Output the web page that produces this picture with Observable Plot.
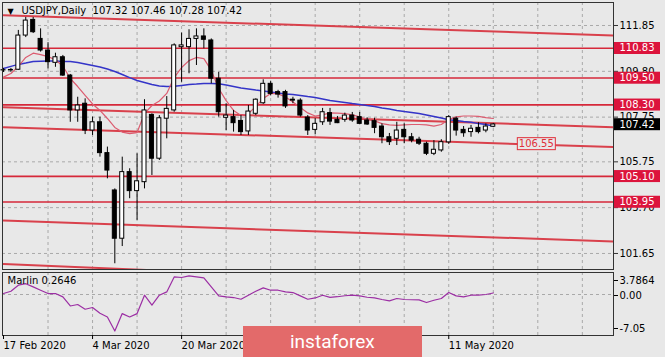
<!DOCTYPE html>
<html><head><meta charset="utf-8">
<script src="https://cdn.jsdelivr.net/npm/d3@7"></script>
<script src="https://cdn.jsdelivr.net/npm/@observablehq/plot@0.6"></script>
<style>
html,body{margin:0;padding:0;background:#e8e8e8;}
#wrap{position:relative;width:665px;height:357px;overflow:hidden;background:#e8e8e8;font-family:"DejaVu Sans",sans-serif;}
#wrap svg{position:absolute;left:0;}
#logo{position:absolute;left:243px;top:326px;width:179px;height:31px;background:#e36a6a;color:#fff;font-family:Roboto,sans-serif;font-size:19px;line-height:31px;box-sizing:border-box;padding-left:47px;}
</style></head>
<body><div id="wrap"></div>
<script>
// ---- data ----
const symbol = "USDJPY", timeframe = "Daily";
const dates = ["2020-02-17","2020-02-18","2020-02-19","2020-02-20","2020-02-21","2020-02-24","2020-02-25","2020-02-26","2020-02-27","2020-02-28",
"2020-03-02","2020-03-03","2020-03-04","2020-03-05","2020-03-06","2020-03-09","2020-03-10","2020-03-11","2020-03-12","2020-03-13",
"2020-03-16","2020-03-17","2020-03-18","2020-03-19","2020-03-20","2020-03-23","2020-03-24","2020-03-25","2020-03-26","2020-03-27",
"2020-03-30","2020-03-31","2020-04-01","2020-04-02","2020-04-03","2020-04-06","2020-04-07","2020-04-08","2020-04-09","2020-04-10",
"2020-04-13","2020-04-14","2020-04-15","2020-04-16","2020-04-17","2020-04-20","2020-04-21","2020-04-22","2020-04-23","2020-04-24",
"2020-04-27","2020-04-28","2020-04-29","2020-04-30","2020-05-01","2020-05-04","2020-05-05","2020-05-06","2020-05-07","2020-05-08",
"2020-05-11","2020-05-12","2020-05-13","2020-05-14","2020-05-15","2020-05-18","2020-05-19"];
const open = [109.85,109.84,109.87,111.40,112.10,111.25,110.73,110.18,110.43,109.61,
108.05,108.35,107.15,107.52,106.14,104.47,102.31,105.29,104.44,104.84,
107.85,105.89,107.68,108.05,110.88,110.88,111.25,111.36,111.18,109.47,
107.72,107.75,107.58,107.11,107.90,108.37,109.24,108.87,108.87,108.53,
108.49,107.73,107.18,107.52,107.93,107.63,107.63,107.82,107.75,107.60,
107.57,107.33,106.85,106.78,107.18,106.85,106.74,106.56,106.11,106.26,
106.62,107.68,107.18,107.08,107.27,107.15,107.32];
const high = [109.93,109.93,111.63,112.21,112.21,111.70,111.08,110.61,110.51,109.66,
108.64,108.57,107.75,107.75,106.41,104.54,105.96,105.44,106.11,108.53,
107.90,107.82,108.67,111.03,111.51,111.66,111.70,111.70,111.25,109.75,
108.35,108.05,107.82,108.27,108.57,109.42,109.34,108.95,108.95,108.64,
108.57,107.82,107.68,108.14,108.14,107.78,107.93,107.96,107.96,107.72,
107.70,107.45,107.02,107.52,107.45,107.02,106.85,106.63,106.70,106.74,
107.82,107.75,107.33,107.38,107.50,107.45,107.46];
const low = [109.75,109.76,109.84,111.31,111.49,110.66,109.91,109.98,109.57,107.52,
107.52,106.97,106.93,105.96,104.99,101.19,101.96,104.10,103.13,104.54,
105.14,105.81,106.78,107.97,109.31,109.69,110.06,110.81,109.24,107.75,
107.15,107.08,106.93,106.93,107.82,108.32,108.70,108.60,108.14,108.35,
107.75,106.93,106.97,107.38,107.38,107.46,107.52,107.52,107.42,107.38,
107.01,106.56,106.48,106.48,106.56,106.60,106.48,106.03,106.03,106.18,
106.53,106.90,106.85,106.85,107.00,107.05,107.28];
const close = [109.84,109.86,111.40,112.07,111.55,110.73,110.21,110.43,109.61,108.05,
108.27,107.15,107.52,106.14,105.36,102.31,105.29,104.44,104.88,108.05,
105.89,107.70,108.12,110.96,110.96,111.25,111.36,111.21,109.47,107.97,
107.82,107.48,107.08,108.00,108.53,109.24,108.79,108.76,108.23,108.49,
107.82,107.15,107.45,107.97,107.55,107.48,107.82,107.60,107.45,107.42,
107.27,106.85,106.63,107.15,106.85,106.70,106.56,106.11,106.29,106.63,
107.75,107.15,107.03,107.23,107.08,107.33,107.42];
const maSlow = [109.93,110.02,110.11,110.17,110.24,110.25,110.26,110.26,110.24,110.24,
110.19,110.13,110.06,109.99,109.90,109.79,109.66,109.52,109.39,109.30,
109.21,109.14,109.12,109.13,109.17,109.21,109.23,109.26,109.26,109.24,
109.19,109.12,109.05,109.01,108.96,108.92,108.87,108.83,108.79,108.76,
108.72,108.67,108.63,108.56,108.49,108.45,108.41,108.36,108.32,108.27,
108.23,108.16,108.11,108.05,108.00,107.96,107.91,107.85,107.78,107.71,
107.63,107.60,107.55,107.52,107.46,107.42,107.35];
const maFast = [109.54,109.70,110.02,110.42,110.61,110.55,110.46,110.31,110.04,109.48,
109.12,108.72,108.34,108.05,107.69,107.29,107.08,107.01,107.06,107.91,
108.27,108.47,108.81,109.52,109.97,110.28,110.42,110.37,109.84,109.03,
108.49,108.05,107.82,107.91,108.23,108.58,108.81,108.79,108.65,108.43,
108.18,107.94,107.80,107.85,107.94,107.93,107.91,107.85,107.76,107.64,
107.58,107.46,107.40,107.38,107.40,107.42,107.42,107.40,107.35,107.42,
107.64,107.76,107.80,107.80,107.78,107.73,107.69];
const marlin = [0.17,0.57,1.60,1.86,1.31,0.74,0.17,0.17,-0.41,-1.97,
-1.72,-2.53,-2.24,-3.22,-3.86,-6.28,-3.28,-3.86,-3.28,-0.12,
-1.84,-0.12,0.45,3.03,2.93,3.21,3.03,2.86,1.31,-0.24,
-0.41,-0.52,-0.81,-0.12,0.57,1.14,0.74,0.74,0.45,0.34,
-0.24,-0.81,-0.59,-0.12,-0.50,-0.38,-0.21,-0.12,-0.24,-0.47,
-0.59,-0.86,-1.10,-0.69,-0.86,-0.90,-0.93,-1.38,-0.98,-0.69,
0.34,-0.24,-0.41,-0.12,-0.12,0.00,0.2646];
const levels = [110.83, 109.50, 108.30, 105.10, 103.95];
const priceTicks = [111.85, 109.80, 107.75, 105.75, 103.70, 101.65];
const marlinTicks = [3.7864, 0, -7.05];
// channel lines: price at bar index channelEnds[0] and channelEnds[1]
const channelEnds = [0, 82.2];
const channelA = [112.31, 111.40];
const channelB = [108.19, 107.30];
const channelC = [107.30, 106.41];
const channelD = [103.12, 102.19];
const channelE = [101.18, 100.03];
const lineLabelIdx = [71.8];
const lineLabelPrice = [106.55];
const dateTickIdx = [0, 12, 24, 60];
const gridIdx = [6,12,18,24,30,36,42,48,54,60,66,72,78];

// ---- build ----
const X_DOMAIN = [-0.135, 82.2];
const bars = dates.map((d, i) => ({i, o: open[i], h: high[i], l: low[i], c: close[i]}));
const slowData = maSlow.map((v, i) => ({i, v}));
const fastData = maFast.map((v, i) => ({i, v}));
const marlinData = marlin.map((v, i) => ({i, v}));
const channels = [channelA, channelB, channelC, channelD, channelE].map((p, k) =>
  channelEnds.map((e, j) => ({k, i: e, v: p[j]})));
const last = dates.length - 1;
const fmt = (n) => n.toFixed(2);
const headerText = `${symbol},${timeframe}\u00a0\u00a0${fmt(open[last])} ${fmt(high[last])} ${fmt(low[last])} ${fmt(close[last])}`;
const dateFmt = d3.utcFormat("%-d %b %Y");

const BG = "#e8e8e8";
const GRID = {stroke: "#a9a9a9", strokeOpacity: 1, strokeDasharray: "3,3", strokeWidth: 1};
const RED = "#d6283a";

const main = Plot.plot({
  width: 665, height: 270,
  marginLeft: 2, marginRight: 52, marginTop: 2, marginBottom: 1,
  style: {background: "transparent", fontFamily: "DejaVu Sans", fontSize: "10px", color: "#000", overflow: "visible"},
  x: {domain: X_DOMAIN, axis: null},
  y: {domain: [100.933, 112.879], axis: null},
  color: {type: "identity"},
  marks: [
    Plot.gridX(gridIdx, GRID),
    Plot.gridY(priceTicks, GRID),
    ...channels.map(c => Plot.line(c, {x: "i", y: "v", stroke: "#d9414c", strokeWidth: 2, clip: true})),
    Plot.ruleY(levels, {stroke: RED, strokeWidth: 1.6}),
    Plot.line(slowData, {x: "i", y: "v", stroke: "#3434c8", strokeWidth: 1.5, clip: true}),
    Plot.line(fastData, {x: "i", y: "v", stroke: "#dc5c70", strokeWidth: 1.2, clip: true}),
    Plot.ruleX(bars, {x: "i", y1: "l", y2: "h", stroke: "#000", strokeWidth: 1}),
    Plot.rect(bars, {x1: d => d.i - 0.27, x2: d => d.i + 0.27,
      y1: d => Math.min(d.o, d.c), y2: d => Math.max(d.o, d.c),
      fill: d => d.c >= d.o ? "#ffffff" : "#000000", stroke: "#000", strokeWidth: 1}),
    Plot.frame({stroke: "#333"}),
    Plot.axisY(priceTicks, {anchor: "right", tickSize: 4, tickPadding: 2, tickFormat: fmt, label: null, fontSize: 10, stroke: "#333"}),
    Plot.text(["\u25BC"], {text: d => d, frameAnchor: "top-left", dx: 5, dy: 6, fontSize: 8}),
    Plot.text([headerText], {text: d => d, frameAnchor: "top-left", dx: 19, dy: 4, fontSize: 10, fill: "#000"}),
    Plot.text(lineLabelPrice, {x: lineLabelIdx, y: d => d, text: fmt, fill: "#e0303a", fontSize: 10}),
    Plot.text(levels, {y: d => d, text: fmt, frameAnchor: "right", dx: 6, textAnchor: "start", fill: "#fff", fontSize: 10}),
    Plot.text([close[last]], {y: d => d, text: fmt, frameAnchor: "right", dx: 6, textAnchor: "start", fill: "#fff", fontSize: 10})
  ]
});

const ind = Plot.plot({
  width: 665, height: 87,
  marginLeft: 2, marginRight: 52, marginTop: 2, marginBottom: 22,
  style: {background: "transparent", fontFamily: "DejaVu Sans", fontSize: "10px", color: "#000", overflow: "visible"},
  x: {domain: X_DOMAIN, axis: null},
  y: {domain: [marlinTicks[2], marlinTicks[0]], axis: null},
  marks: [
    Plot.gridX(gridIdx, GRID),
    Plot.gridY([0], GRID),
    Plot.line(marlinData, {x: "i", y: "v", stroke: "#9c2fa4", strokeWidth: 1.2}),
    Plot.frame({stroke: "#333"}),
    Plot.axisY([marlinTicks[0]], {anchor: "right", tickSize: 4, tickPadding: 2, tickFormat: d => String(d), label: null, dy: 8, fontSize: 10}),
    Plot.axisY([marlinTicks[1]], {anchor: "right", tickSize: 4, tickPadding: 2, tickFormat: fmt, label: null, dy: 1, fontSize: 10}),
    Plot.axisY([marlinTicks[2]], {anchor: "right", tickSize: 4, tickPadding: 2, tickFormat: fmt, label: null, dy: -7, fontSize: 10}),
    Plot.axisX(dateTickIdx, {anchor: "bottom", tickSize: 4, tickPadding: 2, tickFormat: i => dateFmt(new Date(dates[i])), textAnchor: "start", label: null, fontSize: 10}),
    Plot.text([`Marlin ${marlin[last]}`], {text: d => d, frameAnchor: "top-left", dx: 5, dy: 4, fontSize: 10, fill: "#000"})
  ]
});

const wrap = document.getElementById("wrap");
main.style.top = "0px";
ind.style.top = "270px";
wrap.appendChild(main);
wrap.appendChild(ind);

// label boxes behind texts positioned by Plot
const boxStyles = new Map();
levels.forEach(v => boxStyles.set(fmt(v), {fill: "#dc143c", stroke: null, padX: 5.5}));
boxStyles.set(fmt(close[last]), {fill: "#000", stroke: null, padX: 5.5});
lineLabelPrice.forEach(v => boxStyles.set(fmt(v), {fill: BG, stroke: "#e0303a", padX: 1.5}));
main.querySelectorAll("text").forEach(function(t) {
  const s = boxStyles.get(t.textContent);
  if (!s) return;
  if (t.closest("g") && /axis/.test(t.closest("g").getAttribute("aria-label") || "")) return;
  const b = t.getBBox();
  const r = document.createElementNS("http://www.w3.org/2000/svg", "rect");
  r.setAttribute("x", b.x - s.padX);
  r.setAttribute("y", b.y - 0.5);
  r.setAttribute("width", b.width + 2 * s.padX);
  r.setAttribute("height", b.height + 1);
  r.setAttribute("fill", s.fill);
  if (s.stroke) { r.setAttribute("stroke", s.stroke); r.setAttribute("stroke-width", 1); }
  const tr = t.getAttribute("transform");
  if (tr) r.setAttribute("transform", tr);
  t.parentNode.insertBefore(r, t);
});

const logo = document.createElement("div");
logo.id = "logo";
logo.textContent = "instaforex";
wrap.appendChild(logo);
</script>
</body></html>
